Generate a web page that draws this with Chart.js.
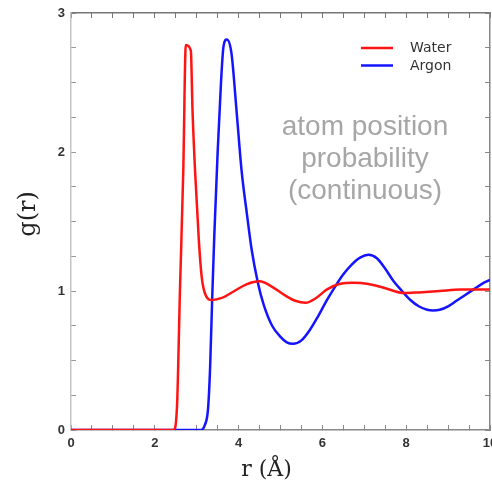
<!DOCTYPE html>
<html>
<head>
<meta charset="utf-8">
<script src="https://cdn.jsdelivr.net/npm/chart.js@4/dist/chart.umd.min.js"></script>
<style>
  html, body { margin: 0; padding: 0; background: #fff; }
  #wrap { width: 492px; height: 484px; }
</style>
</head>
<body>
<div id="wrap"><canvas id="c" width="492" height="484"></canvas></div>
<script>
// g(r)
const seriesNames = ['Water', 'Argon'];
const seriesColors = ['#ff1414', '#1414ff'];

const rWater = [0, 2.45, 2.53, 2.60, 2.68, 2.74, 2.86, 2.90, 2.96, 3.05, 3.12, 3.2, 3.36, 3.6, 3.9, 4.2, 4.5, 4.8, 5.1, 5.35, 5.6, 5.85, 6.1, 6.4, 6.75, 7.1, 7.5, 7.95, 8.3, 8.8, 9.3, 10];
const gWater = [0, 0, 0.17, 1.0, 1.87, 2.77, 2.73, 2.3, 1.87, 1.37, 1.1, 0.98, 0.935, 0.95, 1.0, 1.05, 1.07, 1.03, 0.97, 0.93, 0.915, 0.95, 1.01, 1.05, 1.06, 1.05, 1.02, 0.985, 0.99, 1.0, 1.01, 1.01];

const rArgon = [0, 3.1, 3.2, 3.27, 3.32, 3.37, 3.42, 3.5, 3.58, 3.64, 3.72, 3.83, 3.95, 4.07, 4.2, 4.31, 4.46, 4.6, 4.8, 5.0, 5.15, 5.3, 5.5, 5.7, 5.9, 6.1, 6.3, 6.5, 6.7, 6.9, 7.1, 7.3, 7.5, 7.7, 7.9, 8.1, 8.3, 8.5, 8.64, 8.8, 9.0, 9.2, 9.4, 9.6, 9.8, 10];
const gArgon = [0, 0, 0.04, 0.15, 0.45, 0.95, 1.4, 2.0, 2.5, 2.76, 2.81, 2.71, 2.3, 1.87, 1.55, 1.3, 1.06, 0.9, 0.75, 0.67, 0.63, 0.62, 0.645, 0.72, 0.82, 0.93, 1.03, 1.12, 1.19, 1.24, 1.26, 1.235, 1.16, 1.07, 1.0, 0.935, 0.89, 0.865, 0.86, 0.865, 0.89, 0.93, 0.97, 1.01, 1.05, 1.08];

const noteLines = ['atom position', 'probability', '(continuous)'];

function pts(xs, ys) {
  return xs.map((x, i) => ({x: x, y: ys[i]}));
}

// pin the axis box sizes so the plot area sits where the picture has it
function pin(w, h) {
  return s => {
    if (w != null) s.width = w;
    if (h != null) s.height = h;
    s.paddingLeft = s.paddingRight = s.paddingTop = s.paddingBottom = 0;
  };
}

const tickFont = {family: 'Liberation Sans', size: 13, weight: 'bold'};

// legend + note drawn inside the plot
const overlay = {
  id: 'overlay',
  afterDatasetsDraw(chart) {
    const ctx = chart.ctx;
    ctx.save();
    chart.data.datasets.forEach((ds, i) => {
      const y = 48 + i * 17.5;
      ctx.strokeStyle = ds.borderColor;
      ctx.lineWidth = 2.5;
      ctx.beginPath();
      ctx.moveTo(361, y);
      ctx.lineTo(393, y);
      ctx.stroke();
      ctx.fillStyle = '#333';
      ctx.font = '14px "DejaVu Sans"';
      ctx.textBaseline = 'middle';
      ctx.textAlign = 'left';
      ctx.fillText(ds.label, 410, y + 0.5);
    });
    ctx.fillStyle = '#a6a6a6';
    ctx.font = '28px "Liberation Sans"';
    ctx.textAlign = 'center';
    ctx.textBaseline = 'alphabetic';
    noteLines.forEach((t, i) => ctx.fillText(t, 365, 135 + i * 32));
    ctx.restore();
  }
};

new Chart(document.getElementById('c'), {
  type: 'line',
  data: {
    datasets: [
      {label: seriesNames[0], data: pts(rWater, gWater), borderColor: seriesColors[0], borderWidth: 2.5, pointRadius: 0, cubicInterpolationMode: 'monotone'},
      {label: seriesNames[1], data: pts(rArgon, gArgon), borderColor: seriesColors[1], borderWidth: 2.5, pointRadius: 0, cubicInterpolationMode: 'monotone'}
    ]
  },
  options: {
    responsive: false,
    animation: false,
    layout: {padding: 0},
    plugins: {legend: {display: false}, tooltip: {enabled: false}},
    scales: {
      x: {
        type: 'linear', position: 'bottom', min: 0, max: 10,
        afterFit: pin(null, 54),
        grid: {drawOnChartArea: false, tickLength: -5, color: '#888', lineWidth: 1},
        border: {color: '#888', width: 1.5},
        ticks: {
          stepSize: 0.5, autoSkip: false, maxRotation: 0, padding: 11, color: '#333', font: tickFont,
          callback: v => Math.abs(v - Math.round(v / 2) * 2) < 1e-6 ? String(Math.round(v)) : ''
        },
        title: {display: true, text: 'r (Å)\u00a0\u00a0\u00a0\u00a0', color: '#222', font: {family: 'DejaVu Serif', size: 22}, padding: {top: 0, bottom: 1}}
      },
      x2: {
        type: 'linear', position: 'top', min: 0, max: 10,
        afterFit: pin(null, 13),
        grid: {drawOnChartArea: false, tickLength: -5, color: '#777'},
        border: {color: '#777', width: 1.5},
        ticks: {display: false, stepSize: 0.5, autoSkip: false}
      },
      y: {
        type: 'linear', position: 'left', min: 0, max: 3,
        afterFit: pin(71, null),
        grid: {drawOnChartArea: false, tickLength: -5, color: '#999'},
        border: {color: '#c4c4c4', width: 1.5},
        ticks: {
          stepSize: 0.25, autoSkip: false, padding: 11, color: '#333', font: tickFont,
          callback: v => Math.abs(v - Math.round(v)) < 1e-6 ? String(Math.round(v)) : ''
        },
        title: {display: true, text: '\u00a0\u00a0g(r)', color: '#222', font: {family: 'DejaVu Serif', size: 24}, padding: {top: 14, bottom: 0}}
      },
      y2: {
        type: 'linear', position: 'right', min: 0, max: 3,
        afterFit: pin(2, null),
        grid: {drawOnChartArea: false, tickLength: -5, color: '#888'},
        border: {color: '#888', width: 1.5},
        ticks: {display: false, stepSize: 0.25, autoSkip: false}
      }
    }
  },
  plugins: [overlay]
});
</script>
</body>
</html>
